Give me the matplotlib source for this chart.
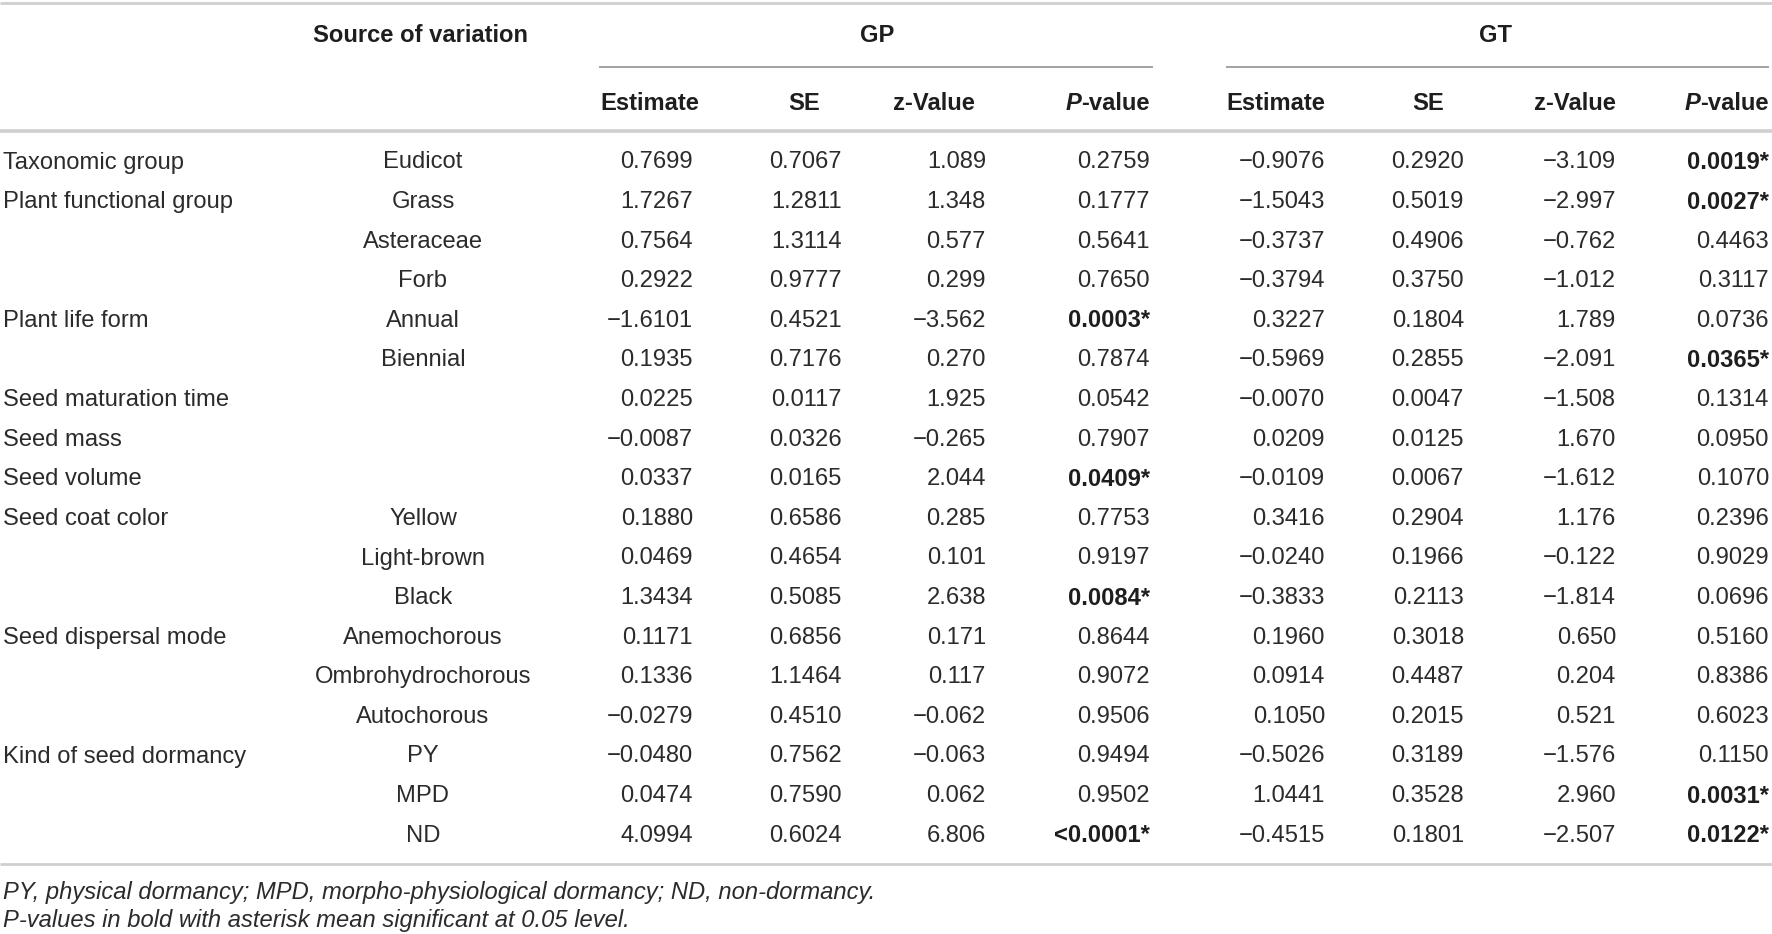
import matplotlib
matplotlib.use("Agg")
import matplotlib.pyplot as plt

plt.rcParams['font.family'] = ['Liberation Sans', 'DejaVu Sans']

# table content
groups = ["Taxonomic group", "Plant functional group", "", "", "Plant life form", "",
          "Seed maturation time", "Seed mass", "Seed volume", "Seed coat color", "", "",
          "Seed dispersal mode", "", "", "Kind of seed dormancy", "", ""]
levels = ["Eudicot", "Grass", "Asteraceae", "Forb", "Annual", "Biennial", "", "", "",
          "Yellow", "Light-brown", "Black", "Anemochorous", "Ombrohydrochorous",
          "Autochorous", "PY", "MPD", "ND"]

gp_est = [0.7699, 1.7267, 0.7564, 0.2922, -1.6101, 0.1935, 0.0225, -0.0087, 0.0337,
          0.1880, 0.0469, 1.3434, 0.1171, 0.1336, -0.0279, -0.0480, 0.0474, 4.0994]
gp_se = [0.7067, 1.2811, 1.3114, 0.9777, 0.4521, 0.7176, 0.0117, 0.0326, 0.0165,
         0.6586, 0.4654, 0.5085, 0.6856, 1.1464, 0.4510, 0.7562, 0.7590, 0.6024]
gp_z = [1.089, 1.348, 0.577, 0.299, -3.562, 0.270, 1.925, -0.265, 2.044,
        0.285, 0.101, 2.638, 0.171, 0.117, -0.062, -0.063, 0.062, 6.806]
gp_p = ["0.2759", "0.1777", "0.5641", "0.7650", "0.0003*", "0.7874", "0.0542", "0.7907",
        "0.0409*", "0.7753", "0.9197", "0.0084*", "0.8644", "0.9072", "0.9506", "0.9494",
        "0.9502", "<0.0001*"]

gt_est = [-0.9076, -1.5043, -0.3737, -0.3794, 0.3227, -0.5969, -0.0070, 0.0209, -0.0109,
          0.3416, -0.0240, -0.3833, 0.1960, 0.0914, 0.1050, -0.5026, 1.0441, -0.4515]
gt_se = [0.2920, 0.5019, 0.4906, 0.3750, 0.1804, 0.2855, 0.0047, 0.0125, 0.0067,
         0.2904, 0.1966, 0.2113, 0.3018, 0.4487, 0.2015, 0.3189, 0.3528, 0.1801]
gt_z = [-3.109, -2.997, -0.762, -1.012, 1.789, -2.091, -1.508, 1.670, -1.612,
        1.176, -0.122, -1.814, 0.650, 0.204, 0.521, -1.576, 2.960, -2.507]
gt_p = ["0.0019*", "0.0027*", "0.4463", "0.3117", "0.0736", "0.0365*", "0.1314", "0.0950",
        "0.1070", "0.2396", "0.9029", "0.0696", "0.5160", "0.8386", "0.6023", "0.1150",
        "0.0031*", "0.0122*"]

footnotes = ["PY, physical dormancy; MPD, morpho-physiological dormancy; ND, non-dormancy.",
             "P-values in bold with asterisk mean significant at 0.05 level."]

W, H = 1772, 934
fig = plt.figure(figsize=(W / 100, H / 100), dpi=100)
ax = fig.add_axes([0, 0, 1, 1])
ax.set_xlim(0, W)
ax.set_ylim(H, 0)
ax.axis('off')

txt = '#2b2b2b'
bold_c = '#1e1e1e'
fs = 17.1


def fmt(v, d):
    return f"{v:.{d}f}".replace('-', '\u2212')


# rules
ax.hlines(3, 0, W, color='#cfcfcf', lw=2)
ax.hlines(67, 599, 1153, color='#9a9a9a', lw=1.3)
ax.hlines(67, 1226, 1769, color='#9a9a9a', lw=1.3)
ax.hlines(131, 0, W, color='#cfcfcf', lw=2.6)
ax.hlines(864, 0, W, color='#cfcfcf', lw=2)

# headers
ty, hy = 35, 103
ax.text(421, ty, "Source of variation", ha='center', va='center', fontsize=fs,
        fontweight='bold', color=bold_c)
ax.text(877, ty, "GP", ha='center', va='center', fontsize=fs, fontweight='bold', color=bold_c)
ax.text(1496, ty, "GT", ha='center', va='center', fontsize=fs, fontweight='bold', color=bold_c)

ax.text(650, hy, "Estimate", ha='center', va='center', fontsize=fs, fontweight='bold', color=bold_c)
ax.text(804, hy, "SE", ha='center', va='center', fontsize=fs, fontweight='bold', color=bold_c)
ax.text(934, hy, "z-Value", ha='center', va='center', fontsize=fs, fontweight='bold', color=bold_c)
ax.text(1325, hy, "Estimate", ha='right', va='center', fontsize=fs, fontweight='bold', color=bold_c)
ax.text(1428, hy, "SE", ha='center', va='center', fontsize=fs, fontweight='bold', color=bold_c)
ax.text(1616, hy, "z-Value", ha='right', va='center', fontsize=fs, fontweight='bold', color=bold_c)

fig.canvas.draw()
renderer = fig.canvas.get_renderer()
inv = ax.transData.inverted()
for xr in (1150, 1769):
    t = ax.text(xr, hy, "-value", ha='right', va='center', fontsize=fs,
                fontweight='bold', color=bold_c)
    bb = t.get_window_extent(renderer)
    x_left = inv.transform((bb.x0, bb.y0))[0]
    ax.text(x_left, hy, "P", ha='right', va='center', fontsize=fs,
            fontweight='bold', style='italic', color=bold_c)

# body
row_y0, row_step = 162.5, 39.6
cols = [(693, gp_est, 4), (842, gp_se, 4), (986, gp_z, 3),
        (1325, gt_est, 4), (1464, gt_se, 4), (1616, gt_z, 3)]
for i in range(len(levels)):
    y = row_y0 + i * row_step
    if groups[i]:
        ax.text(3, y, groups[i], ha='left', va='center', fontsize=fs, color=txt)
    if levels[i]:
        ax.text(423, y, levels[i], ha='center', va='center', fontsize=fs, color=txt)
    for xr, vals, d in cols:
        ax.text(xr, y, fmt(vals[i], d), ha='right', va='center', fontsize=fs, color=txt)
    for xr, pv in ((1150, gp_p), (1769, gt_p)):
        bold = pv[i].endswith('*')
        ax.text(xr, y, pv[i], ha='right', va='center', fontsize=fs,
                color=bold_c if bold else txt,
                fontweight='bold' if bold else 'normal')

# footnotes
for k, note in enumerate(footnotes):
    ax.text(3, 892 + k * 28, note, ha='left', va='center', fontsize=fs,
            style='italic', color=txt)

fig.savefig('out.png', dpi=100)
